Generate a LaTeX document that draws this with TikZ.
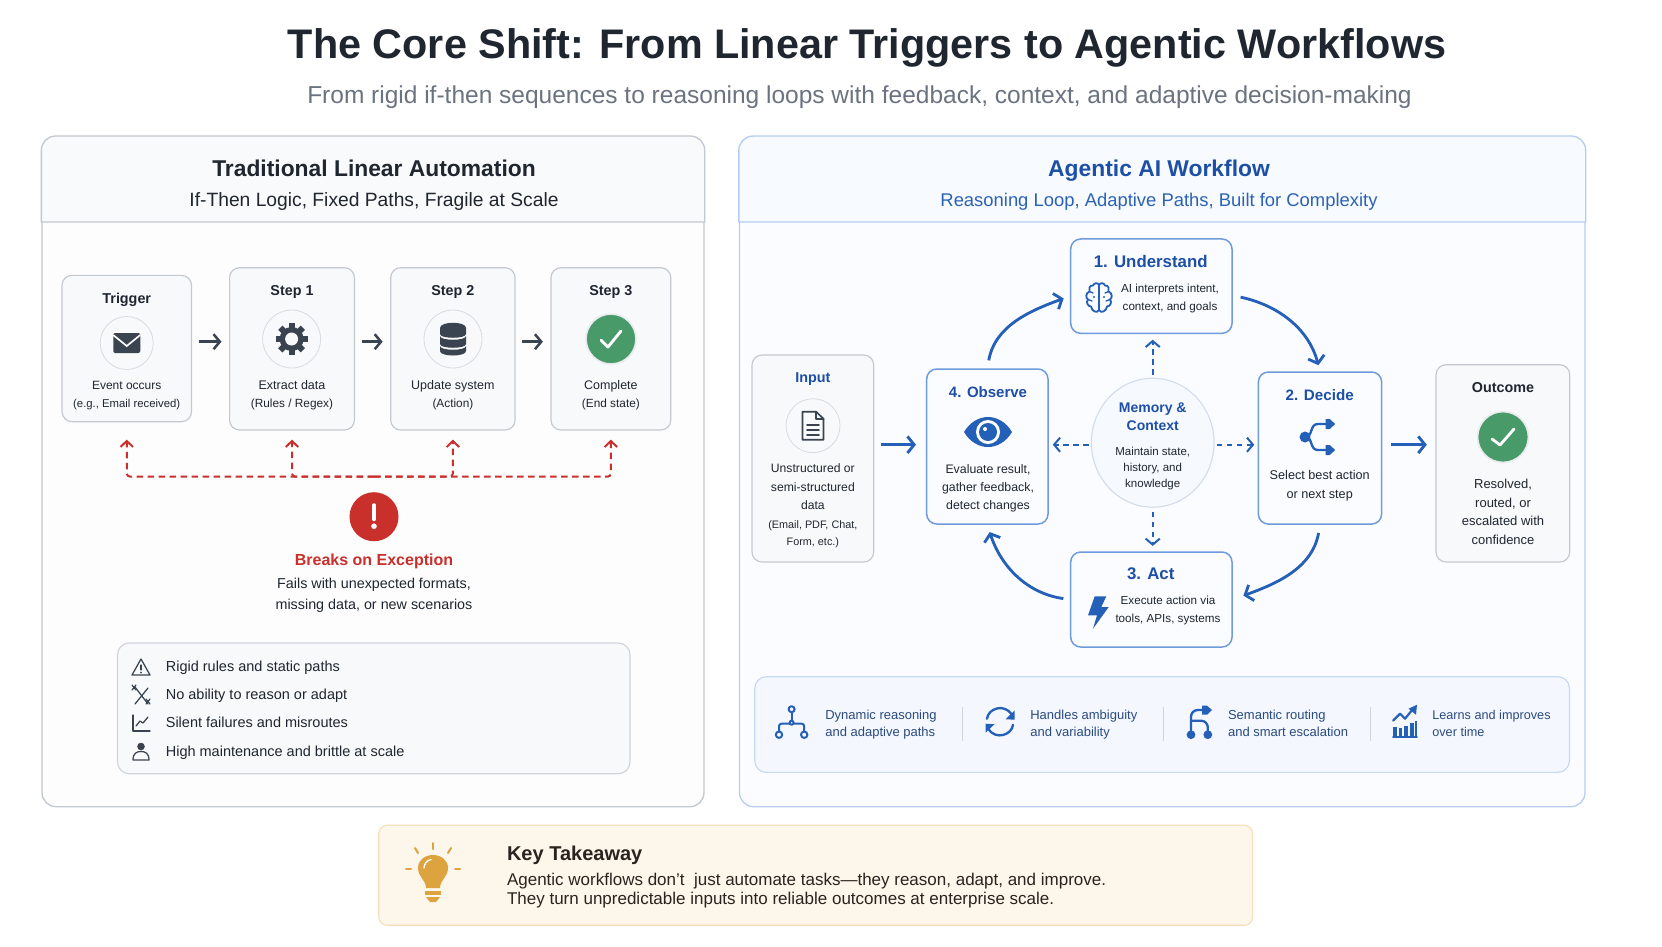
\documentclass[tikz,border=0pt]{standalone}
\usepackage{fontspec}
\setmainfont{Liberation Sans}
\usetikzlibrary{arrows.meta,calc,shapes,positioning}

\definecolor{ink}{HTML}{1F2630}
\definecolor{slate}{HTML}{3A4450}
\definecolor{subgray}{HTML}{6B7280}
\definecolor{graybd}{HTML}{C4C9D0}
\definecolor{grayfill}{HTML}{F8F9FB}
\definecolor{panelbd}{HTML}{C2C8CF}
\definecolor{panelfill}{HTML}{FDFDFE}
\definecolor{headfill}{HTML}{F9FAFB}
\definecolor{rpanelbd}{HTML}{B6CDF0}
\definecolor{rpanelfill}{HTML}{FBFCFF}
\definecolor{rheadfill}{HTML}{F7FAFE}
\definecolor{bluebd}{HTML}{6F9BDD}
\definecolor{bluefill}{HTML}{FAFCFF}
\definecolor{navy}{HTML}{1D4FA6}
\definecolor{iconblue}{HTML}{2560B8}
\definecolor{midblue}{HTML}{2B62B5}
\definecolor{bandtext}{HTML}{2A4A80}
\definecolor{bandfill}{HTML}{F4F8FE}
\definecolor{bandbd}{HTML}{C6D8F2}
\definecolor{discbd}{HTML}{D8DCE1}
\definecolor{discfill}{HTML}{F8F9FA}
\definecolor{memfill}{HTML}{F6F9FD}
\definecolor{membd}{HTML}{D3DEEC}
\definecolor{okgreen}{HTML}{489A69}
\definecolor{alertred}{HTML}{C9302C}
\definecolor{warmfill}{HTML}{FDF6EA}
\definecolor{warmbd}{HTML}{F6DFB8}
\definecolor{bulb}{HTML}{DDA33E}
\definecolor{warmink}{HTML}{2A2320}

\begin{document}
\begin{tikzpicture}[
    x=0.6pt, y=-0.6pt,
    panel/.style={rectangle, draw, rounded corners=8.5pt, line width=0.8pt, inner sep=0pt},
    block/.style={rectangle, draw=graybd, fill=grayfill, rounded corners=6pt, line width=0.7pt, inner sep=0pt},
    blueblock/.style={block, draw=bluebd, fill=bluefill, line width=0.9pt},
    disc/.style={circle, draw=discbd, fill=discfill, line width=0.5pt, inner sep=0pt},
    txt/.style={inner sep=0pt, align=center, text=ink,
        execute at begin node={\strut}, execute at end node={\strut}},
    fs/.style 2 args={font=\fontsize{#1}{#2}\selectfont},
    fb/.style 2 args={font=\fontsize{#1}{#2}\selectfont\bfseries},
    line/.style={draw=slate, line width=1.5pt, -{Straight Barb[length=3.8pt,width=9pt]},
        shorten <=3.9pt, shorten >=4.5pt},
    failline/.style={draw=alertred, line width=1.2pt, dash pattern=on 3.9pt off 2.7pt,
        rounded corners=2pt, -{Straight Barb[length=3.6pt,width=7.5pt]}},
    flowline/.style={draw=iconblue, line width=1.7pt, -{Straight Barb[length=4pt,width=10pt]}},
    memline/.style={draw=iconblue, line width=1.2pt, dash pattern=on 3.4pt off 2.6pt,
        -{Straight Barb[length=3.6pt,width=8.5pt]}},
    ic/.style={draw=slate, line width=0.75pt, line join=round, line cap=round},
    bic/.style={draw=iconblue, line width=1.4pt, line join=round, line cap=round},
    tick/.style={draw=white, line width=1.7pt, line cap=round, line join=round},
]
\useasboundingbox (0,0) rectangle (1662,946);

% Heading
\node[txt, fb={24.8}{30}] (maintitle) at (867,48.7) {The Core Shift: From Linear Triggers to Agentic Workflows};
\node[txt, fs={14.7}{18}, text=subgray] (subtitle) at (859.5,97) {From rigid if-then sequences to reasoning loops with feedback, context, and adaptive decision-making};

% Panels
\node[panel, draw=panelbd, fill=panelfill, minimum width=397.2pt, minimum height=402pt] (left) at (373,471.7) {};
\node[panel, draw=rpanelbd, fill=rpanelfill, minimum width=507.3pt, minimum height=402pt] (right) at (1162.25,471.7) {};
\coordinate (headline) at (0,222);
\draw[draw=panelbd, fill=headfill, line width=0.8pt] (left.west |- headline) [rounded corners=8.5pt] -- (left.north west) -- (left.north east) [sharp corners] -- (left.east |- headline) -- cycle;
\draw[draw=rpanelbd, fill=rheadfill, line width=0.8pt] (right.west |- headline) [rounded corners=8.5pt] -- (right.north west) -- (right.north east) [sharp corners] -- (right.east |- headline) -- cycle;
\node[txt, fb={13.7}{18}] (lefttitle) at (374,170) {Traditional Linear Automation};
\node[txt, fs={11.55}{14}] (leftsub) at (374,202) {If-Then Logic, Fixed Paths, Fragile at Scale};
\node[txt, fb={13.7}{18}, text=navy] (righttitle) at (1159,170) {Agentic AI Workflow};
\node[txt, fs={11.05}{14}, text=midblue] (rightsub) at (1159,202) {Reasoning Loop, Adaptive Paths, Built for Complexity};

% Blocks, linear side
\node[block, minimum width=77.7pt, minimum height=87.8pt] (trigger) at (126.75,348.5) {};
\node[block, minimum width=74.9pt, minimum height=97.4pt] (step1) at (292,348.85) {};
\node[block, minimum width=74.6pt, minimum height=97.4pt] (step2) at (452.9,348.85) {};
\node[block, minimum width=71.9pt, minimum height=97.4pt] (step3) at (610.9,348.85) {};
\node[txt, fb={8.6}{12}] (triggerhead) at (126.75,299) {Trigger};
\node[txt, fb={8.6}{12}] (step1head) at (292,291.5) {Step 1};
\node[txt, fb={8.6}{12}] (step2head) at (452.9,291.5) {Step 2};
\node[txt, fb={8.6}{12}] (step3head) at (610.9,291.5) {Step 3};
\node[txt, fs={6.8}{10.9}] (triggertext) at (126.75,396.8) {{\fontsize{7.2}{10.9}\selectfont Event occurs}\\(e.g., Email received)};
\node[txt, fs={7.1}{10.9}] (step1text) at (292,396.4) {{\fontsize{7.5}{10.9}\selectfont Extract data}\\(Rules / Regex)};
\node[txt, fs={7.1}{10.9}] (step2text) at (452.9,396.4) {{\fontsize{7.5}{10.9}\selectfont Update system}\\(Action)};
\node[txt, fs={7.1}{10.9}] (step3text) at (610.9,396.4) {{\fontsize{7.5}{10.9}\selectfont Complete}\\(End state)};
\node[disc, minimum size=31.8pt] (maildisc) at (126.75,343) {};
\node[disc, minimum size=34.8pt] (geardisc) at (291.6,339) {};
\node[disc, minimum size=34.8pt] (dbdisc) at (453,339) {};
\node[disc, draw=discbd!60, line width=1pt, fill=okgreen, minimum size=30pt] (donedisc) at (611,339) {};

% Icons, linear side
\begin{scope}[shift={(maildisc)}]
\fill[slate, rounded corners=1.2] (-13.5,-10) rectangle (13.5,10);
\draw[draw=white, line width=1pt] (-13.5,-8) -- (0,3) -- (13.5,-8);
\end{scope}
\begin{scope}[shift={(geardisc)}]
\draw[draw=slate, line width=3.6pt] (-16,0) -- (16,0);
\draw[draw=slate, line width=3.6pt] (0,-16) -- (0,16);
\draw[draw=slate, line width=3.6pt] (-11.3,-11.3) -- (11.3,11.3);
\draw[draw=slate, line width=3.6pt] (-11.3,11.3) -- (11.3,-11.3);
\fill[slate] (0,0) circle (12);
\fill[discfill] (0,0) circle (6.5);
\end{scope}
\begin{scope}[shift={(dbdisc)}]
\fill[slate] (-13,-11) .. controls (-13,-18) and (13,-18) .. (13,-11) -- (13,-5) .. controls (13,0) and (-13,0) .. (-13,-5) -- cycle;
\fill[slate] (-13,-3) .. controls (-13,2) and (13,2) .. (13,-3) -- (13,5) .. controls (13,10) and (-13,10) .. (-13,5) -- cycle;
\fill[slate] (-13,7) .. controls (-13,12) and (13,12) .. (13,7) -- (13,12) .. controls (13,18) and (-13,18) .. (-13,12) -- cycle;
\end{scope}
\draw[tick] ($(donedisc)+(-10,1)$) -- ($(donedisc)+(-3,8)$) -- ($(donedisc)+(10,-8)$);

% Lines, linear side
\coordinate (stepflow) at (0,341.7);
\draw[line] (trigger.east |- stepflow) -- (step1.west |- stepflow);
\draw[line] (step1.east |- stepflow) -- (step2.west |- stepflow);
\draw[line] (step2.east |- stepflow) -- (step3.west |- stepflow);
\coordinate (bus) at (374,476.7);
\draw[failline, shorten >=10.4pt] (bus) -| (trigger.south);
\draw[failline, shorten >=5.4pt] (bus) -| (step1.south);
\draw[failline, shorten >=5.4pt] (bus) -| (step2.south);
\draw[failline, shorten >=5.4pt] (bus) -| (step3.south);

% Exception
\node[circle, fill=alertred, inner sep=0pt, minimum size=29.4pt] (alert) at (374,516.7) {};
\draw[draw=white, line width=2.4pt, line cap=round] ($(alert)+(0,-11.5)$) -- ($(alert)+(0,2.5)$);
\fill[white] ($(alert)+(0,9.5)$) circle (2.8);
\node[txt, fb={9.6}{13}, text=alertred] (alerthead) at (374,561) {Breaks on Exception};
\node[txt, fs={8.6}{12.6}] (alerttext) at (374,596.5) {Fails with unexpected formats,\\missing data, or new scenarios};

% Limits list
\node[block, fill=grayfill, draw=graybd!80, rounded corners=7pt, minimum width=307.5pt, minimum height=78.4pt] (limits) at (373.75,708.35) {};
\node[txt, fs={8.7}{12}, anchor=west] (limit1) at (165.5,667) {Rigid rules and static paths};
\node[txt, fs={8.7}{12}, anchor=west] (limit2) at (165.5,695) {No ability to reason or adapt};
\node[txt, fs={8.7}{12}, anchor=west] (limit3) at (165.5,723) {Silent failures and misroutes};
\node[txt, fs={8.7}{12}, anchor=west] (limit4) at (165.5,752) {High maintenance and brittle at scale};
\begin{scope}[shift={(141,667)}]
\draw[ic] (0,-8) -- (9,8) -- (-9,8) -- cycle;
\draw[ic] (0,-2) -- (0,3);
\fill[slate] (0,5.6) circle (0.9);
\end{scope}
\begin{scope}[shift={(141,695)}]
\draw[ic] (-6,-8) -- (7,9);
\draw[ic] (7,-7) -- (-6,9);
\draw[ic] (-9,-10) -- (-5,-5);
\draw[ic] (-5,-10) -- (-9,-5);
\draw[ic] (5,4) -- (9,9);
\draw[ic] (9,4) -- (5,9);
\end{scope}
\begin{scope}[shift={(141,723)}]
\draw[ic] (-8,-8) -- (-8,8) -- (9,8);
\draw[ic] (-5,3) -- (-1,-2) -- (2,0) -- (7,-6);
\end{scope}
\begin{scope}[shift={(141,752)}]
\fill[slate] (0,-5.5) circle (3.8);
\draw[ic] (-8,8) -- (8,8) .. controls (8,1) and (4,-0.5) .. (0,-0.5) .. controls (-4,-0.5) and (-8,1) .. (-8,8);
\end{scope}

% Blocks, agentic side
\node[block, minimum width=73pt, minimum height=124.2pt] (input) at (812.85,458.5) {};
\node[blueblock, minimum width=96.8pt, minimum height=56.6pt] (understand) at (1151.35,286.15) {};
\node[blueblock, minimum width=74pt, minimum height=91.2pt] (decide) at (1320,448) {};
\node[blueblock, minimum width=96.8pt, minimum height=57pt] (act) at (1151.35,599.5) {};
\node[blueblock, minimum width=72.8pt, minimum height=93pt] (observe) at (987.35,446.5) {};
\node[block, minimum width=80.2pt, minimum height=118.4pt] (outcome) at (1502.85,463.35) {};
\node[ellipse, draw=membd, fill=memfill, line width=0.7pt, inner sep=0pt, minimum width=73.6pt, minimum height=77.4pt] (memory) at (1152.7,442.7) {};

\node[txt, fb={8.6}{12}, text=navy] (inputhead) at (812.85,378.5) {Input};
\node[txt, fs={7.3}{11}] (inputtext) at (812.85,489.5) {Unstructured or\\semi-structured\\data};
\node[txt, fs={6.5}{10}] (inputnote) at (812.85,535.8) {(Email, PDF, Chat,\\Form, etc.)};
\node[txt, fb={10.1}{13}, text=navy] (understandhead) at (1150.7,262.8) {1. Understand};
\node[txt, fs={7}{10.8}, anchor=center] (understandtext) at (1170,300) {AI interprets intent,\\context, and goals};
\node[txt, fb={9.1}{12}, text=navy] (decidehead) at (1319.7,396.7) {2. Decide};
\node[txt, fs={7.6}{11.2}] (decidetext) at (1319.7,487.5) {Select best action\\or next step};
\node[txt, fb={10.1}{13}, text=navy] (acthead) at (1150.7,575) {3. Act};
\node[txt, fs={7}{10.8}] (acttext) at (1168,612.2) {Execute action via\\tools, APIs, systems};
\node[txt, fb={9}{12}, text=navy] (observehead) at (988,393) {4. Observe};
\node[txt, fs={7.4}{10.9}] (observetext) at (988,489.5) {Evaluate result,\\gather feedback,\\detect changes};
\node[txt, fb={8.4}{10.8}, text=navy] (memoryhead) at (1152.7,419) {Memory \&\\Context};
\node[txt, fs={6.9}{9.6}] (memorytext) at (1152.7,470) {Maintain state,\\history, and\\knowledge};
\node[txt, fb={8.6}{12}] (outcomehead) at (1503,388.7) {Outcome};
\node[txt, fs={7.8}{11.1}] (outcometext) at (1503,514.7) {Resolved,\\routed, or\\escalated with\\confidence};

% Icons, agentic side
\node[disc, minimum size=32.4pt] (docdisc) at (813,425.7) {};
\begin{scope}[shift={(docdisc)}]
\draw[ic, line width=1pt] (-10.5,-14) -- (3,-14) -- (10.5,-7) -- (10.5,14) -- (-10.5,14) -- cycle;
\draw[ic, line width=1pt] (3,-14) -- (3,-7) -- (10.5,-7);
\draw[ic, line width=1pt] (-6,-1) -- (6,-1);
\draw[ic, line width=1pt] (-6,4) -- (6,4);
\draw[ic, line width=1pt] (-6,9) -- (6,9);
\end{scope}
\coordinate (brain) at (1099,298);
\begin{scope}[shift={(brain)}]
\draw[bic, line width=1.1pt] (0,-13) .. controls (1,-15.5) and (5,-15.5) .. (6,-12.5) .. controls (9.5,-13) and (10.5,-9) .. (9.5,-6.5) .. controls (13.5,-5) and (13.5,0) .. (11,1.5) .. controls (13.5,4) and (11,8.5) .. (8,8.5) .. controls (7.5,13) and (2,16) .. (0,12) -- cycle;
\draw[bic, line width=1.1pt] (0,-13) .. controls (-1,-15.5) and (-5,-15.5) .. (-6,-12.5) .. controls (-9.5,-13) and (-10.5,-9) .. (-9.5,-6.5) .. controls (-13.5,-5) and (-13.5,0) .. (-11,1.5) .. controls (-13.5,4) and (-11,8.5) .. (-8,8.5) .. controls (-7.5,13) and (-2,16) .. (0,12);
\draw[bic, line width=0.8pt] (9.5,-6.5) -- (6,-5);
\draw[bic, line width=0.8pt] (-9.5,-6.5) -- (-6,-5);
\draw[bic, line width=0.8pt] (11,1.5) -- (7,3);
\draw[bic, line width=0.8pt] (-11,1.5) -- (-7,3);
\fill[iconblue] (5,-1) circle (1.2);
\fill[iconblue] (-5,-1) circle (1.2);
\end{scope}
\coordinate (bolt) at (1098,612);
\fill[iconblue, shift={(bolt)}] (-3.3,-15.7) -- (8.3,-15.7) -- (3.3,-5) -- (10.7,-5) -- (-5,16.7) -- (-1,3.3) -- (-10,3.3) -- cycle;
\coordinate (eye) at (988,432);
\begin{scope}[shift={(eye)}]
\fill[iconblue] (-24,0) .. controls (-12,-20) and (12,-20) .. (24,0) .. controls (12,20) and (-12,20) .. (-24,0) -- cycle;
\fill[white] (0,0) circle (12);
\fill[iconblue] (0,0) circle (9);
\fill[white] (-3,-3) circle (2);
\end{scope}
\coordinate (branch) at (1317.7,437);
\begin{scope}[shift={(branch)}]
\fill[iconblue] (-12.7,0) circle (5.5);
\draw[bic] (-12,0) .. controls (-5,0) and (-8,-13) .. (0,-13) -- (9,-13);
\draw[bic] (-12,0) .. controls (-5,0) and (-8,13) .. (0,13) -- (9,13);
\fill[iconblue] (8,-18) -- (12,-18) -- (17.5,-13) -- (12,-8) -- (8,-8) -- cycle;
\fill[iconblue] (8,8) -- (12,8) -- (17.5,13) -- (12,18) -- (8,18) -- cycle;
\end{scope}
\node[disc, draw=discbd!60, line width=1pt, fill=okgreen, minimum size=30.5pt] (outcomedisc) at (1503,437) {};
\draw[tick] ($(outcomedisc)+(-11,2)$) -- ($(outcomedisc)+(-3,8)$) -- ($(outcomedisc)+(11,-8)$);

% Lines, agentic side
\coordinate (mainflow) at (0,444.7);
\draw[flowline, shorten <=4.2pt, shorten >=6pt] (input.east |- mainflow) -- (observe.west |- mainflow);
\draw[flowline, shorten <=5.4pt, shorten >=5.2pt] (decide.east |- mainflow) -- (outcome.west |- mainflow);
\draw[flowline, shorten <=4.8pt, shorten >=4pt] (observe.north) to[out=80, in=200] ([yshift=-6pt]understand.west);
\draw[flowline, shorten <=4.8pt, shorten >=3.8pt] ([yshift=-5.6pt]understand.east) to[out=-12, in=105] (decide.north);
\draw[flowline, shorten <=5pt, shorten >=6.8pt] (decide.south) to[out=-100, in=20] (act.east);
\draw[flowline, shorten <=4pt, shorten >=4.6pt] (act.west) to[out=172, in=-72] (observe.south);
\draw[memline, shorten <=1.6pt, shorten >=3.4pt] (memory.north) -- (memory.north |- understand.south);
\draw[memline, shorten <=1.2pt, shorten >=2.4pt] (memory.west |- mainflow) -- (observe.east |- mainflow);
\draw[memline, shorten <=1.2pt, shorten >=2pt] (memory.east |- mainflow) -- (decide.west |- mainflow);
\draw[memline, shorten <=2.4pt, shorten >=3.2pt] (memory.south) -- (memory.south |- act.north);

% Capabilities band
\node[block, draw=bandbd, fill=bandfill, rounded corners=7pt, minimum width=488.8pt, minimum height=57.4pt] (band) at (1162.1,724.5) {};
\node[txt, fs={7.8}{10.4}, text=bandtext, align=left, anchor=west] (band1) at (825,726) {Dynamic reasoning\\and adaptive paths};
\node[txt, fs={7.8}{10.4}, text=bandtext, align=left, anchor=west] (band2) at (1030,726) {Handles ambiguity\\and variability};
\node[txt, fs={7.8}{10.4}, text=bandtext, align=left, anchor=west] (band3) at (1227.7,726) {Semantic routing\\and smart escalation};
\node[txt, fs={7.6}{10.4}, text=bandtext, align=left, anchor=west] (band4) at (1432,726) {Learns and improves\\over time};
\coordinate (sep1) at (962,707);
\coordinate (sep2) at (1163.5,707);
\coordinate (sep3) at (1370.8,707);
\draw[draw=graybd!80, line width=0.6pt] (sep1) -- ++(0,34);
\draw[draw=graybd!80, line width=0.6pt] (sep2) -- ++(0,34);
\draw[draw=graybd!80, line width=0.6pt] (sep3) -- ++(0,34);
\begin{scope}[shift={(791.6,721.7)}]
\draw[bic, line width=1.2pt] (0,-9.5) -- (0,1);
\draw[bic, line width=1.2pt, rounded corners=1.5] (-12.6,10) -- (-12.6,2) -- (12.6,2) -- (12.6,10);
\draw[bic, line width=1.2pt, fill=bandfill] (0,-12.5) circle (3);
\draw[bic, line width=1.2pt, fill=bandfill] (0,1) circle (2);
\draw[bic, line width=1.2pt, fill=bandfill] (-12.6,13) circle (3.2);
\draw[bic, line width=1.2pt, fill=bandfill] (12.6,13) circle (3.2);
\end{scope}
\begin{scope}[shift={(1000,721.7)}]
\draw[bic] (-13,-3) .. controls (-12,-13) and (4,-19) .. (12,-7);
\fill[iconblue] (14.5,-11) -- (14.5,-2) -- (5.5,-2.5) -- cycle;
\draw[bic] (13,3) .. controls (12,13) and (-4,19) .. (-12,7);
\fill[iconblue] (-14.5,11) -- (-14.5,2) -- (-5.5,2.5) -- cycle;
\end{scope}
\begin{scope}[shift={(1199,721.7)}]
\draw[bic, rounded corners=4] (-8,13) -- (-8,-11.7) -- (4,-11.7);
\draw[bic, rounded corners=4] (-8,-1) -- (8.8,-1) -- (8.8,13);
\fill[iconblue] (-8,13) circle (4.4);
\fill[iconblue] (8.8,13) circle (4.4);
\fill[iconblue] (3,-16) -- (8,-16) -- (13,-11.7) -- (8,-7) -- (3,-7) -- cycle;
\end{scope}
\begin{scope}[shift={(1405,721.7)}]
\fill[iconblue] (-12,5) rectangle (-8.5,15);
\fill[iconblue] (-6.3,6) rectangle (-2.8,15);
\fill[iconblue] (-0.6,4) rectangle (2.9,15);
\fill[iconblue] (5.1,1) rectangle (8.6,15);
\fill[iconblue] (9.5,-1) rectangle (12,15);
\draw[bic, line width=1pt] (-12,15.5) -- (12,15.5);
\draw[bic, line width=1.3pt] (-12,-1) -- (-5,-8) -- (0,-3) -- (9,-14);
\fill[iconblue] (12,-17) -- (11,-7) -- (3.5,-13) -- cycle;
\end{scope}

% Takeaway
\node[block, draw=warmbd, fill=warmfill, rounded corners=5pt, minimum width=524.3pt, minimum height=60pt] (takeaway) at (815.7,875.3) {};
\node[txt, fb={12}{15}, text=warmink, anchor=west] (takehead) at (506.7,855) {Key Takeaway};
\node[txt, fs={10.2}{11.4}, text=warmink, align=left, anchor=west] (taketext) at (506.7,891.5) {Agentic workflows don’t\ \ just automate tasks—they reason, adapt, and improve.\\They turn unpredictable inputs into reliable outcomes at enterprise scale.};
\begin{scope}[shift={(433,873)}]
\fill[bulb] (-7,15) .. controls (-7,7) and (-15,4) .. (-15,-5) .. controls (-15,-13) and (-8,-18) .. (0,-18) .. controls (8,-18) and (15,-13) .. (15,-5) .. controls (15,4) and (7,7) .. (7,15) -- cycle;
\draw[draw=white, line width=0.8pt, line cap=round] (-9,-5) .. controls (-9,-9) and (-6,-13) .. (-2,-13.5);
\fill[bulb] (-8,18) rectangle (8,22);
\fill[bulb] (-7,24) -- (7,24) -- (3,29) -- (-3,29) -- cycle;
\draw[draw=bulb, line width=1.2pt, line cap=round] (0,-30) -- (0,-24);
\draw[draw=bulb, line width=1.2pt, line cap=round] (-18,-25) -- (-15,-20);
\draw[draw=bulb, line width=1.2pt, line cap=round] (18,-25) -- (15,-20);
\draw[draw=bulb, line width=1.2pt, line cap=round] (-27,-4) -- (-22,-4);
\draw[draw=bulb, line width=1.2pt, line cap=round] (22,-4) -- (27,-4);
\end{scope}

\end{tikzpicture}
\end{document}
